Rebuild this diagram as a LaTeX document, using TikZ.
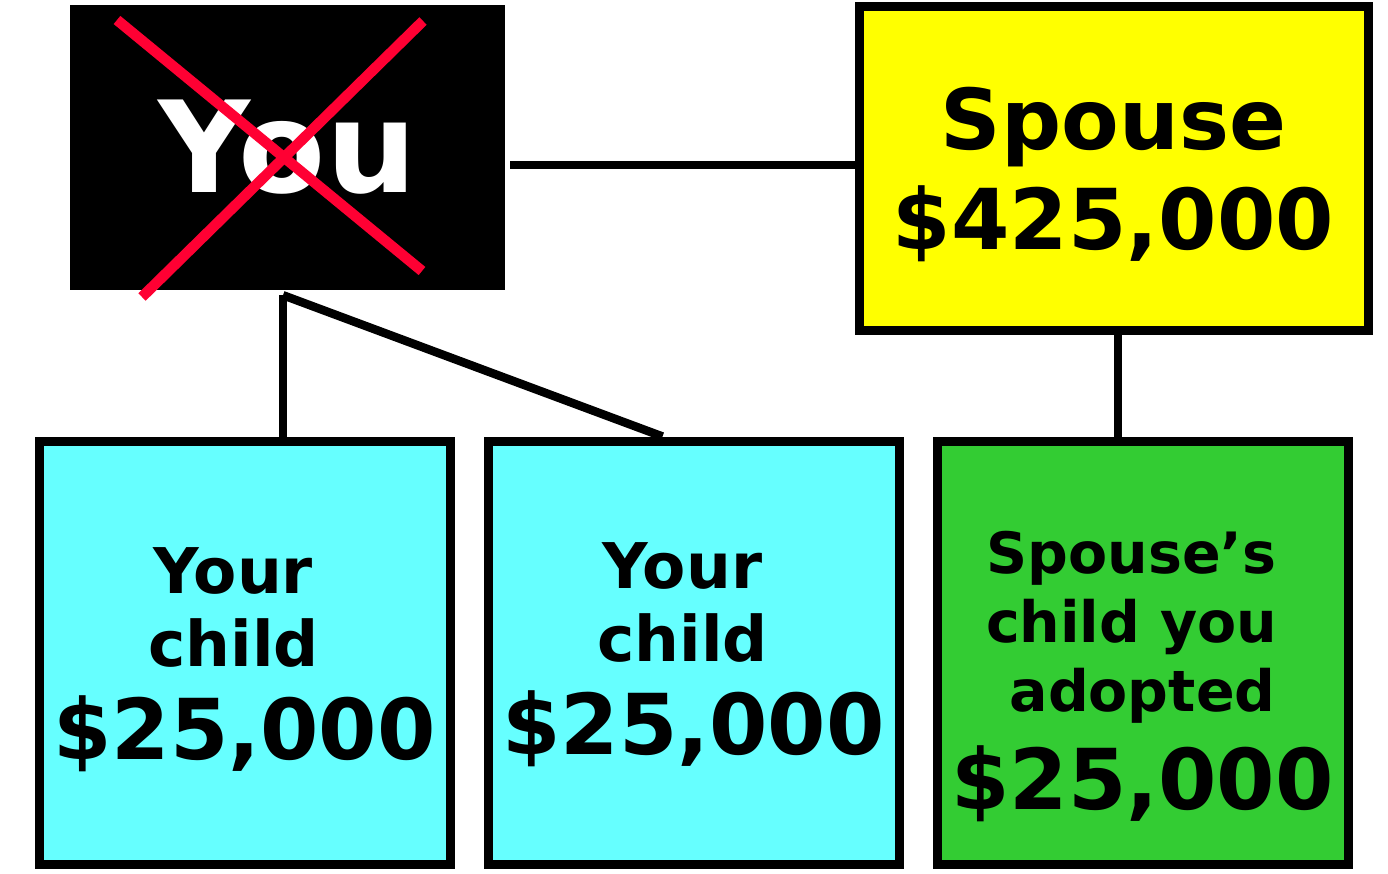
\documentclass[tikz,border=0pt]{standalone}
\usepackage{fontspec}
\setmainfont{DejaVu Sans}
\usetikzlibrary{positioning}
\definecolor{kidcyan}{HTML}{66FFFF}
\definecolor{adoptgreen}{HTML}{33CC33}
\definecolor{spouseyellow}{HTML}{FFFF00}
\definecolor{crossred}{HTML}{FF0033}
\tikzset{
	famline/.style={line width=8.5pt},
	crossline/.style={line width=10.5pt, crossred},
	youbox/.style={fill=black, text=white, minimum width=435pt, minimum height=285pt, font=\bfseries\fontsize{127}{140}\selectfont},
	famBox/.style={draw, line width=9pt, minimum width=411pt, minimum height=423pt, inner sep=0pt},
	spouseBox/.style={draw, line width=9pt, fill=spouseyellow, minimum width=509pt, minimum height=323pt, inner sep=0pt},
	kidtext/.style={align=center, inner sep=0pt, font=\bfseries\fontsize{63}{73}\selectfont},
	adopttext/.style={align=center, inner sep=0pt, font=\bfseries\fontsize{57}{69}\selectfont},
	bigtext/.style={align=center, inner sep=0pt, font=\bfseries\fontsize{84}{100}\selectfont}
}
\newcommand{\moneyfont}{\fontsize{84}{94}\selectfont}
\newcommand{\lpad}{\kern22pt}
\begin{document}
\begin{tikzpicture}[x=1pt,y=-1pt]
	\useasboundingbox (0,0) rectangle (1388,874);
	\node[youbox] (you) at (287.5,147.5) {\raisebox{-14pt}{You}};
	\node[spouseBox] (spouse) at (1113.5,168.5) {};
	\node[famBox, fill=kidcyan] (kid1) at (244.5,652.5) {};
	\node[famBox, fill=kidcyan, right=29pt of kid1] (kid2) {};
	\node[famBox, fill=adoptgreen, right=29pt of kid2] (adopt) {};
	
	\node[bigtext, yshift=-6pt] (spouseTxt) at (spouse.center) {Spouse\\\$425,000};
	\node[kidtext, yshift=-7pt] (kid1Txt) at (kid1.center) {Your\lpad\\child\lpad\\[20pt]{\moneyfont\$25,000}};
	\node[kidtext, yshift=-2pt] (kid2Txt) at (kid2.center) {Your\lpad\\child\lpad\\[20pt]{\moneyfont\$25,000}};
	\node[adopttext, yshift=-24pt] (adoptTxt) at (adopt.center) {Spouse’s\lpad\\child you\lpad\\adopted\\[21pt]{\moneyfont\$25,000}};
	
	\draw[crossline] (117,20) -- (422,271);
	\draw[crossline] (423,21) -- (142,297);
	
	\coordinate (fork) at ([xshift=-4.5pt,yshift=-5pt]you.south);
	\draw[famline] ([xshift=5pt,yshift=-17.5pt]you.east) -- ([yshift=-17.5pt]you.east -| spouse.west);
	\draw[famline] (fork) -- (fork |- kid1.north);
	\draw[famline] (fork) -- ([xshift=-31pt]kid2.north);
	\draw[famline] ([xshift=4.5pt]spouse.south) -- ([xshift=4.5pt]spouse.south |- adopt.north);
\end{tikzpicture}
\end{document}
